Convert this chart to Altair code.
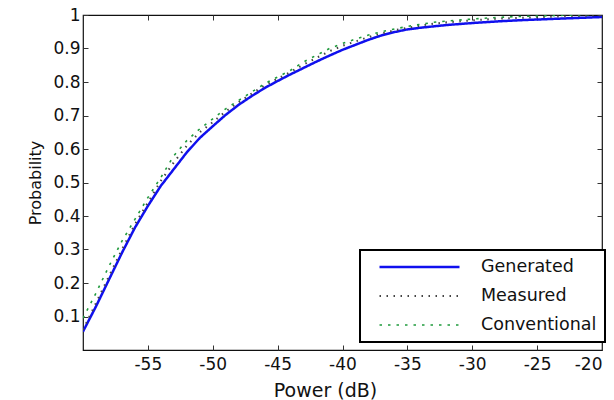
import altair as alt
import pandas as pd

power = [-60, -59, -58, -57, -56, -55, -54, -53, -52, -51, -50, -49, -48, -47, -46, -45,
         -44, -43, -42, -41, -40, -39, -38, -37, -36, -35, -34, -33, -32, -30, -28, -26,
         -24, -22, -20]
generated = [0.055, 0.13, 0.21, 0.29, 0.365, 0.43, 0.49, 0.54, 0.59, 0.633, 0.668, 0.702,
             0.732, 0.758, 0.782, 0.803, 0.823, 0.842, 0.861, 0.879, 0.896, 0.911, 0.926, 0.939,
             0.949, 0.957, 0.962, 0.966, 0.97, 0.976, 0.981, 0.985, 0.988, 0.991, 0.994]
measured = [0.06, 0.14, 0.22, 0.30, 0.375, 0.44, 0.505, 0.56, 0.61, 0.65, 0.68, 0.712,
            0.74, 0.765, 0.79, 0.81, 0.83, 0.852, 0.872, 0.892, 0.908, 0.921, 0.934, 0.945,
            0.954, 0.962, 0.968, 0.974, 0.978, 0.984, 0.989, 0.992, 0.995, 0.997, 0.999]
conventional = [0.095, 0.17, 0.25, 0.325, 0.39, 0.455, 0.515, 0.58, 0.625, 0.66, 0.69, 0.72,
                0.745, 0.77, 0.795, 0.815, 0.835, 0.86, 0.88, 0.9, 0.915, 0.928, 0.94, 0.95,
                0.958, 0.966, 0.972, 0.978, 0.982, 0.988, 0.993, 0.996, 0.998, 1.0, 1.003]

series_names = ["Generated", "Measured", "Conventional"]
series_colors = ["#1010ee", "#444444", "#1f9a3c"]
series_dash = [[1, 0], [1.5, 5.5], [2.5, 6]]
series_width = [2.5, 1.6, 3.5]
x_ticks = [-55, -50, -45, -40, -35, -30, -25, -20]
y_ticks = [0.1, 0.2, 0.3, 0.4, 0.5, 0.6, 0.7, 0.8, 0.9, 1]

rows = []
for name, vals in zip(series_names, [generated, measured, conventional]):
    for p, v in zip(power, vals):
        rows.append({"power": p, "prob": v, "series": name})
df = pd.DataFrame(rows)

font = "DejaVu Sans"

xscale = alt.Scale(domain=[-60, -20], nice=False, zero=False)
yscale = alt.Scale(domain=[0, 1], nice=False, zero=False)

main = alt.Chart(df).mark_line(clip=True).encode(
    x=alt.X("power:Q", scale=xscale,
            axis=alt.Axis(title="Power (dB)", values=x_ticks, domain=False,
                          labelExpr="toString(datum.value)",
                          offset=-5, tickSize=5, tickColor="#333", labelPadding=6,
                          labelFontSize=17, labelFont=font, labelColor="#111",
                          titleFont=font, titleFontSize=19, titleFontWeight="normal",
                          titleColor="#111", titlePadding=9, titleX=242, grid=False)),
    y=alt.Y("prob:Q", scale=yscale,
            axis=alt.Axis(title="Probability", values=y_ticks, domain=False,
                          offset=-5, tickSize=5, tickColor="#333", labelPadding=3,
                          labelFontSize=17, labelFont=font, labelColor="#111",
                          titleFont=font, titleFontSize=16, titleFontWeight="normal",
                          titleColor="#111", titlePadding=9, grid=False,
                          labelExpr="datum.value == 1 ? '1' : format(datum.value, '.1f')")),
    color=alt.Color("series:N",
                    scale=alt.Scale(domain=series_names, range=series_colors),
                    legend=alt.Legend(title=None, orient="none", legendX=277, legendY=235,
                                      symbolType="stroke", symbolSize=6400,
                                      symbolStrokeWidth=2.5, clipHeight=18, rowPadding=11,
                                      symbolOffset=10,
                                      labelFont=font, labelFontSize=17.5, labelColor="#111",
                                      labelOffset=20, padding=8,
                                      strokeColor="#000", fillColor="white")),
    strokeDash=alt.StrokeDash("series:N",
                              scale=alt.Scale(domain=series_names, range=series_dash),
                              legend=alt.Legend(title=None)),
    strokeWidth=alt.StrokeWidth("series:N",
                                scale=alt.Scale(domain=series_names, range=series_width),
                                legend=None),
    order=alt.Order("power:Q"),
)

frame = alt.Chart(pd.DataFrame({"v": [0]})).mark_point(opacity=0).encode(
    x=alt.X("v:Q", scale=xscale,
            axis=alt.Axis(orient="top", values=x_ticks, labels=False, title=None,
                          domain=False, offset=-5, tickSize=5, tickColor="#333", grid=False)),
    y=alt.Y("v:Q", scale=yscale,
            axis=alt.Axis(orient="right", values=y_ticks, labels=False, title=None,
                          domain=False, offset=-5, tickSize=5, tickColor="#333", grid=False)),
)

chart = alt.layer(main, frame).resolve_axis(x="independent", y="independent").properties(
    width=519, height=335,
    autosize=alt.AutoSizeParams(type="none"),
    padding={"left": 83, "top": 15, "right": 12, "bottom": 50},
    background="white",
).configure_view(stroke="#111", strokeWidth=1.2).configure_legend(strokeWidth=2)

chart.save("out.html", embed_options={"renderer": "svg", "actions": False})
